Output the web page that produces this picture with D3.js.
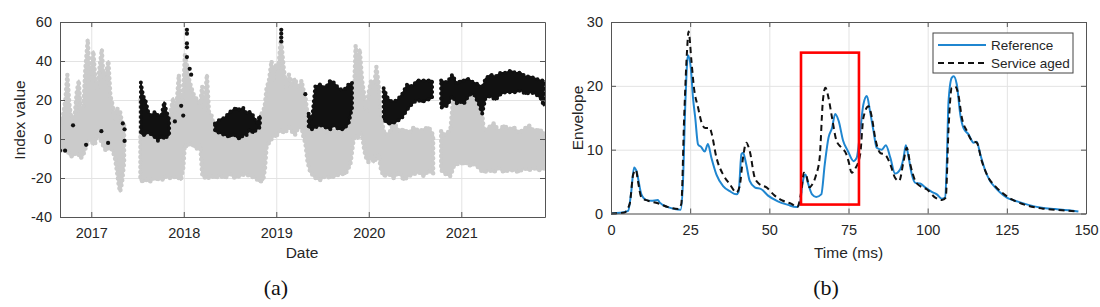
<!DOCTYPE html>
<html>
<head>
<meta charset="utf-8">
<script src="https://cdn.jsdelivr.net/npm/d3@7"></script>
<style>
  html, body { margin: 0; padding: 0; background: #fff; }
  svg { display: block; font-family: "Liberation Sans", Arial, sans-serif; }
</style>
</head>
<body>
<svg id="chart" width="1100" height="307"></svg>
<script>
// ---------------- Panel (a) data: index value vs date (decimal years) ----------------
// Gray scatter cloud, described as per-date upper/lower envelope (null = gap in record)
const grayYear = [2016.662,2016.695,2016.720,2016.741,2016.763,2016.792,2016.821,2016.843,2016.865,2016.886,2016.914,2016.936,2016.962,2016.984,2017.001,2017.023,2017.044,2017.066,2017.088,2017.114,2017.135,2017.157,2017.185,2017.207,2017.228,2017.254,2017.276,2017.298,2017.312,2017.333,2017.355,null,
  2017.531,2017.561,2017.596,2017.633,2017.669,2017.705,2017.741,2017.777,2017.813,2017.850,2017.885,2017.910,2017.947,2017.969,2017.994,2018.012,2018.034,2018.055,2018.083,2018.113,2018.148,2018.178,2018.199,2018.221,2018.250,2018.272,2018.300,2018.337,2018.391,2018.445,2018.499,2018.553,2018.607,2018.661,2018.715,2018.770,2018.824,2018.859,2018.878,2018.895,2018.921,2018.949,2018.971,2018.992,2019.022,2019.051,2019.079,2019.108,2019.137,2019.166,2019.202,2019.238,2019.274,2019.289,2019.314,2019.339,2019.368,2019.422,2019.476,2019.530,2019.584,2019.639,2019.693,2019.747,2019.801,2019.837,2019.858,2019.880,2019.902,2019.928,2019.952,2019.974,2019.999,2020.025,2020.053,2020.082,2020.107,2020.133,2020.161,2020.215,2020.270,2020.324,2020.378,2020.432,2020.486,2020.540,2020.594,2020.648,2020.696,null,
  2020.782,2020.829,2020.883,2020.919,2020.956,2020.991,2021.027,2021.064,2021.100,2021.135,2021.172,2021.208,2021.244,2021.298,2021.352,2021.406,2021.460,2021.514,2021.568,2021.622,2021.676,2021.731,2021.785,2021.839,2021.900];
const grayHigh = [8,12,20,33,18,8,12,24,30,14,16,36,51,30,38,45,30,26,36,46,28,33,40,22,18,10,16,14,14,8,8,null,
  20,14,10,8,9,10,8,10,6,12,21,10,33,16,24,43,38,31,26,22,20,18,27,15,33,14,12,4,6,4,8,6,8,6,8,6,12,14,18,26,30,40,30,38,36,52,37,26,33,28,31,26,30,26,22,12,6,4,7,3,6,4,7,5,8,18,48,34,46,30,22,14,24,30,25,37,28,12,4,2,9,4,5,3,6,4,5,6,2,null,
  4,2,5,24,28,25,30,27,28,24,27,22,4,6,8,4,7,5,6,3,5,7,4,5,3];
const grayLow = [-5,-6,-5,-6,-8,-9,-8,-7,-8,-10,-8,-5,-2,0,-1,-3,-2,2,1,-2,-4,-6,-5,-4,-6,-9,-16,-24,-27,-22,-12,null,
  -21,-22,-21,-22,-20,-21,-20,-21,-19,-20,-19,-20,-20,-21,-15,-3,-4,-3,-2,-4,-5,-3,-18,-20,-19,-20,-19,-20,-19,-20,-18,-20,-19,-18,-19,-20,-22,-21,-15,-4,-2,0,2,1,3,5,3,4,6,4,2,6,6,2,-2,-12,-17,-20,-21,-19,-20,-19,-18,-18,-13,0,2,0,3,2,-6,-10,-12,-8,-12,-10,-8,-16,-19,-18,-20,-17,-21,-19,-18,-17,-19,-16,-18,null,
  -16,-18,-19,-14,-13,-12,-13,-12,-14,-13,-14,-16,-17,-16,-17,-15,-17,-16,-16,-17,-15,-16,-15,-16,-15];

// Black scatter cloud (dense parts), same envelope description
const blackYear = [2017.536,2017.561,2017.585,2017.615,2017.650,2017.687,2017.723,2017.759,2017.788,2017.813,2017.842,null,
  2018.337,2018.391,2018.445,2018.499,2018.535,2018.570,2018.607,2018.643,2018.679,2018.715,2018.751,2018.787,2018.824,null,
  2019.350,2019.386,2019.422,2019.476,2019.530,2019.584,2019.620,2019.674,2019.728,2019.782,2019.819,null,
  2020.161,2020.205,2020.252,2020.306,2020.360,2020.415,2020.469,2020.523,2020.577,2020.631,2020.685,null,
  2020.782,2020.847,2020.902,2020.956,2020.991,2021.027,2021.064,2021.100,2021.135,2021.189,2021.226,2021.262,2021.316,2021.370,2021.424,2021.478,2021.532,2021.587,2021.641,2021.695,2021.749,2021.803,2021.857,2021.893];
const blackHigh = [29,22,20,14,12,14,12,12,19,14,10,null,
  8,10,11,14,15,16,15,16,13,14,12,8,12,null,
  13,10,27,28,26,30,29,26,25,28,29,null,
  26,21,19,20,23,28,27,30,30,30,30,null,
  30,29,33,28,30,30,31,30,29,28,26,31,33,32,34,34,35,34,34,32,32,31,30,30];
const blackLow = [3,2,2,4,2,1,-1,2,0,1,2,null,
  4,3,2,1,3,1,0,2,2,5,3,5,6,null,
  6,5,6,7,6,5,7,5,5,8,16,null,
  10,8,8,9,11,15,18,20,19,20,21,null,
  16,17,22,18,19,18,21,23,23,18,13,21,22,20,23,24,24,24,25,23,24,23,21,17];

// Isolated black points
const blackDotYear  = [2016.662,2016.717,2016.803,2016.944,2017.109,2017.182,2017.341,2017.360,2017.360,2017.904,2017.972,2017.994,2018.034,2018.034,2018.034,2018.034,2018.034,2018.064,2018.080,2019.054,2019.054,2019.054,2019.054,2019.314];
const blackDotValue = [-6,-6,7,-3,4,-2,8,5,-1,9,17,12,56,54,49,47,42,36,33,56,54,52,50,23];

const yearTicks = [2017, 2018, 2019, 2020, 2021];
const indexTicks = [-40, -20, 0, 20, 40, 60];

// ---------------- Panel (b) data: envelope vs time (ms) ----------------
const refTime  = [0,3,5.4,6.3,7.3,8,9.6,11.2,12.7,14.8,15.4,18,20.1,22,22.7,23.5,24.3,25.2,25.9,26.6,27.5,28.5,29.6,30.6,31.7,33.3,35.4,37.5,39.6,40.3,41.2,41.7,42.7,43.8,45.4,47.5,49.6,52.7,55.9,58.5,59.6,60.6,61.4,62.3,63.5,64.8,66.4,67.5,68.7,69.8,70.8,71.9,73.3,74.8,76.6,77.6,78.7,79.7,80.8,81.8,82.9,83.9,85.5,86.8,88.2,89.7,91.3,92.4,93.1,94,95,96.1,97.6,99.2,101.3,102.9,104.5,105.5,106,106.6,107.6,108.2,109.2,110.3,111.3,112.9,114.5,115.5,116.6,118.2,119.7,121.3,122.9,125,127.6,131.8,136,140.3,144.5,147.6];
const refValue = [0,0.1,0.4,3,7.2,6.7,3.0,2.1,2.0,2.1,1.7,1.0,0.7,0.6,4.6,17.6,24.8,22.8,18.1,15,10.8,10.4,9.7,10.9,8.75,6.1,4.3,3.5,3.0,3.4,9.3,9.5,7.7,5.1,4.1,3.8,2.8,1.9,1.35,1.0,1.5,5.1,6.1,4.6,3.0,2.6,3.0,7.7,11.9,13.4,15.6,14.5,11.4,9.8,8.2,8.75,12.9,17.1,18.4,16.0,12.9,10.3,10.0,10.7,8.75,6.25,6.9,8.75,10.7,8.75,6.1,4.8,4.7,4.1,3.4,3.0,2.3,2.5,7.2,17.6,21.25,21.5,20.2,15.5,13.4,12.4,11.1,11.25,9.3,6.7,5.1,4.1,3.3,2.5,2.0,1.35,0.9,0.7,0.5,0.3];
const agedTime  = [0,4,5.9,7,7.9,8.5,9.6,11.7,14.8,18,21.2,22.2,23.1,24,24.5,25.4,26.2,27.5,28.7,29.8,31.2,31.7,33.3,35.4,37.5,39.6,40.6,41.7,42.7,43.8,45.4,46.9,49.1,51.7,54.3,57,58.8,60.1,60.9,61.7,62.7,63.5,64.8,65.9,66.9,67.7,68.7,69.8,71.2,72.8,74.3,75,76,77.1,78.7,79.7,81.3,82.4,83.4,85,86.6,88.2,89.7,91,92.4,93.4,94.5,96.1,97.6,99.7,102.4,104.5,105.7,106.6,107.6,108.7,109.7,110.8,112.4,114,115.5,117.1,119.2,121.3,123.4,126.6,130.8,136,142.4,147.6];
const agedValue = [0,0.1,1.5,6.1,6.8,5.1,2.5,2.0,1.6,1.0,0.7,1.5,15,25.4,28.5,23.9,19.7,16.6,14.1,13.4,13.4,12.7,8.75,6.1,4.6,3.3,4.2,8.75,11.1,9.8,5.6,4.6,4.1,2.8,2.0,1.5,1.0,3.5,6.4,5.9,4.1,4.5,6.1,8.75,17.6,19.7,18.1,15,11.4,10.3,9.3,8.2,6.4,7.0,9.3,15,16.8,15,11.9,9.5,9.2,7.7,5.6,5.1,8.2,10.3,7.7,5.1,4.3,3.8,2.5,2.1,2.5,13.4,19.7,19.9,18.6,15,12.9,11.4,11.1,8.2,5.6,4.3,3.3,2.2,1.35,0.8,0.5,0.3];
const timeTicks = [0, 25, 50, 75, 100, 125, 150];
const envTicks = [0, 10, 20, 30];
const seriesNames = ["Reference", "Service aged"];
// highlighted region [t0, t1, v0, v1]
const highlightBox = [60, 78.3, 1.4, 25.2];

// ---------------- Drawing ----------------
const svg = d3.select("#chart");
const AXIS = "#555", TXT = "#262626", GRID = "#e3e3e3";
const fmt = d => String(d);   // plain hyphen-minus like the original

function frame(g, x, y, xt, yt) {
  const [x0, x1] = x.range(), [y0, y1] = y.range();
  g.append("g").attr("transform", `translate(0,${y0})`)
    .call(d3.axisBottom(x).tickValues(xt).tickSize(-(y0 - y1)).tickFormat(""))
    .call(s => { s.select(".domain").remove(); s.selectAll("line").attr("stroke", GRID); });
  g.append("g").attr("transform", `translate(${x0},0)`)
    .call(d3.axisLeft(y).tickValues(yt).tickSize(-(x1 - x0)).tickFormat(""))
    .call(s => { s.select(".domain").remove(); s.selectAll("line").attr("stroke", GRID); });
}
function axes(g, x, y, xt, yt) {
  const [x0, x1] = x.range(), [y0, y1] = y.range();
  const style = s => {
    s.select(".domain").attr("stroke", AXIS);
    s.selectAll(".tick line").attr("stroke", AXIS);
    s.selectAll("text").attr("fill", TXT).attr("font-size", "14.5px").attr("font-family", '"Liberation Sans", Arial, sans-serif');
  };
  g.append("g").attr("transform", `translate(0,${y0})`)
    .call(d3.axisBottom(x).tickValues(xt).tickSizeInner(-5).tickSizeOuter(0).tickPadding(11).tickFormat(fmt)).call(style);
  g.append("g").attr("transform", `translate(0,${y1})`)
    .call(d3.axisTop(x).tickValues(xt).tickSizeInner(-5).tickSizeOuter(0).tickFormat("")).call(style);
  g.append("g").attr("transform", `translate(${x0},0)`)
    .call(d3.axisLeft(y).tickValues(yt).tickSizeInner(-5).tickSizeOuter(0).tickPadding(8).tickFormat(fmt)).call(style);
  g.append("g").attr("transform", `translate(${x1},0)`)
    .call(d3.axisRight(y).tickValues(yt).tickSizeInner(-5).tickSizeOuter(0).tickFormat("")).call(style);
}

// ---- Panel (a)
const xa = d3.scaleLinear().domain([2016.662, 2021.905]).range([60, 545]);
const ya = d3.scaleLinear().domain([-40, 60]).range([217, 22]);
const ga = svg.append("g");
frame(ga, xa, ya, yearTicks, indexTicks);

svg.append("clipPath").attr("id", "clipA").append("rect")
  .attr("x", 60).attr("y", 22).attr("width", 485).attr("height", 195);

const rows = (xs, hi, lo) => xs.map((t, i) => ({ t, hi: hi[i], lo: lo[i] }));
const bandA = d3.area().defined(d => d.t != null)
  .x(d => xa(d.t)).y0(d => ya(d.lo)).y1(d => ya(d.hi));

const plotA = ga.append("g").attr("clip-path", "url(#clipA)");
const grayRows = rows(grayYear, grayHigh, grayLow);
const blackRows = rows(blackYear, blackHigh, blackLow);
plotA.append("path").datum(grayRows)
  .attr("d", bandA).attr("fill", "#cbcbcb").attr("stroke", "#cbcbcb").attr("stroke-width", 2).attr("stroke-linejoin", "round");
// dotted outline gives the scatter-like ragged edge
plotA.append("path").datum(grayRows)
  .attr("d", bandA).attr("fill", "none").attr("stroke", "#cbcbcb").attr("stroke-width", 4.5)
  .attr("stroke-linecap", "round").attr("stroke-dasharray", "0,5");
plotA.append("path").datum(blackRows)
  .attr("d", bandA).attr("fill", "#111").attr("stroke", "#111").attr("stroke-width", 1.5).attr("stroke-linejoin", "round");
plotA.append("path").datum(blackRows)
  .attr("d", bandA).attr("fill", "none").attr("stroke", "#111").attr("stroke-width", 4)
  .attr("stroke-linecap", "round").attr("stroke-dasharray", "0,5");
plotA.selectAll("circle.bd").data(blackDotYear.map((t, i) => ({ t, v: blackDotValue[i] })))
  .join("circle").attr("class", "bd").attr("cx", d => xa(d.t)).attr("cy", d => ya(d.v)).attr("r", 2.1).attr("fill", "#111");

axes(ga, xa, ya, yearTicks, indexTicks);
ga.append("text").attr("x", 302).attr("y", 258).attr("text-anchor", "middle")
  .attr("font-size", "15.5px").attr("fill", TXT).text("Date");
ga.append("text").attr("transform", "translate(25,120) rotate(-90)").attr("text-anchor", "middle")
  .attr("font-size", "15.5px").attr("fill", TXT).text("Index value");
ga.append("text").attr("x", 276).attr("y", 295).attr("text-anchor", "middle")
  .attr("font-family", '"Liberation Serif", "Times New Roman", serif').attr("font-size", "22px").attr("fill", "#111").text("(a)");

// ---- Panel (b)
const xb = d3.scaleLinear().domain([0, 150]).range([611, 1086]);
const yb = d3.scaleLinear().domain([0, 30]).range([213.5, 22]);
const gb = svg.append("g");
frame(gb, xb, yb, timeTicks, envTicks);

const lineB = d3.line().x(d => xb(d.t)).y(d => yb(d.v)).curve(d3.curveMonotoneX);
gb.append("path").datum(refTime.map((t, i) => ({ t, v: refValue[i] })))
  .attr("d", lineB).attr("fill", "none").attr("stroke", "#1f86d0").attr("stroke-width", 2);
gb.append("path").datum(agedTime.map((t, i) => ({ t, v: agedValue[i] })))
  .attr("d", lineB).attr("fill", "none").attr("stroke", "#111").attr("stroke-width", 2).attr("stroke-dasharray", "6,4");

gb.append("rect")
  .attr("x", xb(highlightBox[0])).attr("y", yb(highlightBox[3]))
  .attr("width", xb(highlightBox[1]) - xb(highlightBox[0]))
  .attr("height", yb(highlightBox[2]) - yb(highlightBox[3]))
  .attr("fill", "none").attr("stroke", "#ff0000").attr("stroke-width", 2.6);

axes(gb, xb, yb, timeTicks, envTicks);
gb.append("text").attr("x", 848.5).attr("y", 258).attr("text-anchor", "middle")
  .attr("font-size", "15.5px").attr("fill", TXT).text("Time (ms)");
gb.append("text").attr("transform", "translate(583,118) rotate(-90)").attr("text-anchor", "middle")
  .attr("font-size", "15.5px").attr("fill", TXT).text("Envelope");
gb.append("text").attr("x", 826).attr("y", 295).attr("text-anchor", "middle")
  .attr("font-family", '"Liberation Serif", "Times New Roman", serif').attr("font-size", "22px").attr("fill", "#111").text("(b)");

// legend
const lg = gb.append("g").attr("transform", "translate(933,33)");
lg.append("rect").attr("width", 140).attr("height", 40).attr("fill", "#fff").attr("stroke", "#444").attr("stroke-width", 1);
const lstyles = [{ c: "#1f86d0", d: null }, { c: "#111", d: "6,4" }];
seriesNames.forEach((name, i) => {
  const yy = 12 + i * 18;
  lg.append("line").attr("x1", 5).attr("x2", 53).attr("y1", yy).attr("y2", yy)
    .attr("stroke", lstyles[i].c).attr("stroke-width", 2).attr("stroke-dasharray", lstyles[i].d);
  lg.append("text").attr("x", 58).attr("y", yy + 4.5).attr("font-size", "13.5px").attr("fill", TXT).text(name);
});
</script>
</body>
</html>
